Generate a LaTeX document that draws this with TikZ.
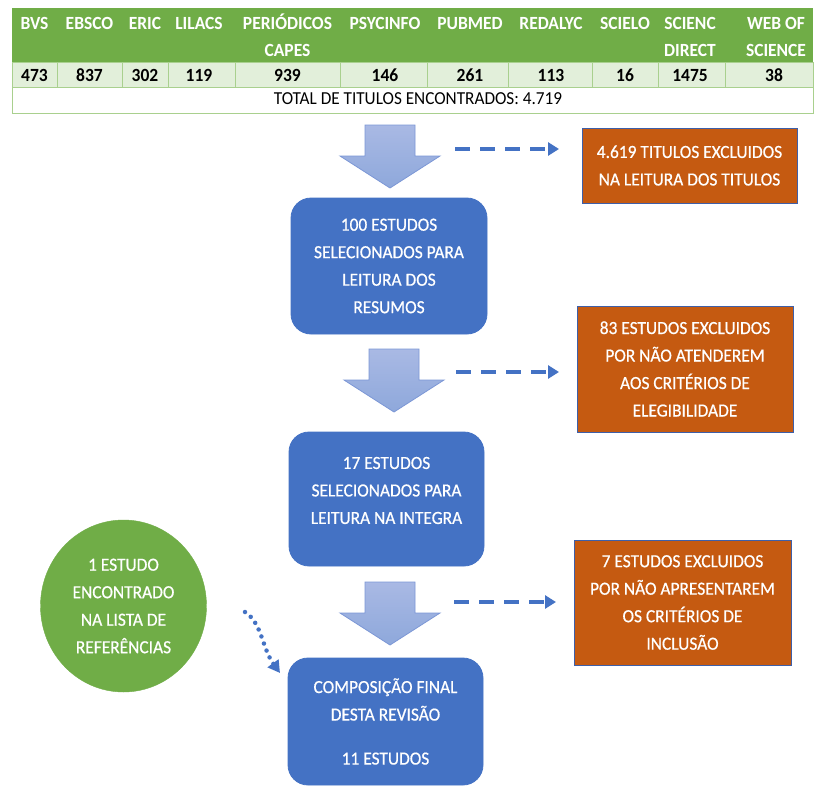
\documentclass[tikz,border=0pt]{standalone}
\usepackage{fontspec}
\setmainfont{Carlito}
\newfontfamily\boxfont{Carlito}[FakeStretch=0.94, FakeBold=0.6]
\newfontfamily\hdrfont{Carlito}[FakeStretch=0.94]
\usetikzlibrary{arrows.meta,shapes.geometric}
\definecolor{hdrgreen}{HTML}{70AD47}
\definecolor{rowgreen}{HTML}{E2EFDA}
\definecolor{linegreen}{HTML}{A9D08E}
\definecolor{boxblue}{HTML}{4472C4}
\definecolor{boxorange}{HTML}{C55A11}
\definecolor{orangeedge}{HTML}{3E5FA8}
\definecolor{arrowtop}{HTML}{A9B9E4}
\definecolor{arrowbot}{HTML}{8EA8DB}
\definecolor{arrowedge}{HTML}{7C97D6}
\definecolor{circgreen}{HTML}{70AD47}
\tikzset{
  hdr/.style={text=white, font=\hdrfont\fontsize{18.6}{27}\selectfont\bfseries, align=center, inner sep=0pt},
  num/.style={text=black, font=\hdrfont\fontsize{18.6}{22}\selectfont\bfseries, inner sep=0pt, anchor=base},
  boxtext/.style={text=white, font=\boxfont\fontsize{18.5}{27.5}\selectfont, align=center, inner sep=0pt},
  bluebox/.style={boxtext, fill=boxblue, draw=boxblue, line width=0.8pt, rounded corners=20pt},
  orangebox/.style={boxtext, fill=boxorange, draw=orangeedge, line width=1pt},
  greencirc/.style={boxtext, ellipse, fill=circgreen, draw=circgreen},
  dasharrow/.style={draw=boxblue, line width=4.5pt, dash pattern=on 15pt off 10pt, -{Triangle[length=11pt,width=13pt]}},
  dotarrow/.style={draw=boxblue, line width=4.5pt, line cap=round, dash pattern=on 0pt off 7.5pt, -{Triangle[length=12pt,width=13pt]}},
  blockarrow/.pic={
    \shade[top color=arrowtop, bottom color=arrowbot, draw=arrowedge, line width=0.8pt]
      (-25,0) -- (25,0) -- (25,31) -- (50,31) -- (0,63) -- (-50,31) -- (-25,31) -- cycle;
  }
}
\begin{document}
\begin{tikzpicture}[x=1pt, y=-1pt]
\useasboundingbox (0,0) rectangle (814,787);
\fill[white] (0,0) rectangle (814,787);

% table
\fill[hdrgreen] (12,8) rectangle (813,62);
\filldraw[fill=rowgreen, draw=linegreen, line width=1pt] (12,62) rectangle (813,87);
\draw[linegreen, line width=1pt] (12,87) rectangle (813,113);
\foreach \xx in {57,122,168,235,340,427,508,592,658,725}
  \draw[linegreen, line width=1pt] (\xx,62) -- (\xx,87);

\foreach \i/\xc/\h/\n in {1/34.5/BVS/473, 2/89.5/EBSCO/837, 3/145/ERIC/302, 4/199/LILACS/119, 6/385/PSYCINFO/146, 7/470/PUBMED/261, 8/551/REDALYC/113, 9/625/SCIELO/16}{
  \node[hdr, anchor=base] (h\i) at (\xc,29.5) {\h};
  \node[num] (n\i) at (\xc,81) {\n};
}
\node[hdr, anchor=base] (h5) at (287.5,56.5) {PERIÓDICOS\\CAPES};
\node[num] (n5) at (287.5,81) {939};
\node[hdr, anchor=base] (h10) at (690,56.5) {SCIENC\\DIRECT};
\node[num] (n10) at (690,81) {1475};
\node[hdr, anchor=base] (h11) at (776,56.5) {WEB OF\\SCIENCE};
\node[num] (n11) at (774,81) {38};
\node[anchor=base, inner sep=0pt, font=\hdrfont\fontsize{18.3}{20}\selectfont] (tot) at (418,104.5) {TOTAL DE TITULOS ENCONTRADOS: 4.719};

% block arrows
\pic at (390,125) {blockarrow};
\pic at (394,349) {blockarrow};
\pic at (390,582) {blockarrow};

% blue boxes
\node[bluebox, minimum width=196pt, minimum height=136pt] (b1) at (389,266) {100 ESTUDOS\\SELECIONADOS PARA\\LEITURA DOS\\RESUMOS};
\node[bluebox, minimum width=195pt, minimum height=134pt] (b2) at (386.5,499) {};
\node[boxtext] (b2t) at (386.5,490.5) {17 ESTUDOS\\SELECIONADOS PARA\\LEITURA NA INTEGRA};
\node[bluebox, minimum width=195pt, minimum height=127pt] (b3) at (385.5,721.5) {COMPOSIÇÃO FINAL\\DESTA REVISÃO\\[16.5pt]11 ESTUDOS};

% orange boxes
\node[orangebox, minimum width=215pt, minimum height=75pt] (o1) at (689.5,165.5) {4.619 TITULOS EXCLUIDOS\\NA LEITURA DOS TITULOS};
\node[orangebox, minimum width=216pt, minimum height=126pt] (o2) at (685,369) {83 ESTUDOS EXCLUIDOS\\POR NÃO ATENDEREM\\AOS CRITÉRIOS DE\\ELEGIBILIDADE};
\node[orangebox, minimum width=217pt, minimum height=125pt] (o3) at (682.5,602.5) {7 ESTUDOS EXCLUIDOS\\POR NÃO APRESENTAREM\\OS CRITÉRIOS DE\\INCLUSÃO};

% green circle
\node[greencirc, minimum width=166pt, minimum height=172pt] (c1) at (123.5,606) {1 ESTUDO\\ENCONTRADO\\NA LISTA DE\\REFERÊNCIAS};

% dashed arrows
\coordinate (d1s) at (455,149); \coordinate (d1e) at (559,149);
\coordinate (d2s) at (456,372); \coordinate (d2e) at (559,372);
\coordinate (d3s) at (454,602); \coordinate (d3e) at (556,602);
\draw[dasharrow] (d1s) -- (d1e);
\draw[dasharrow] (d2s) -- (d2e);
\draw[dasharrow] (d3s) -- (d3e);

% dotted arrow
\coordinate (ps) at (245,612); \coordinate (pe) at (280,673);
\draw[dotarrow] (ps) .. controls (262,623) and (262,648) .. (pe);
\end{tikzpicture}
\end{document}
